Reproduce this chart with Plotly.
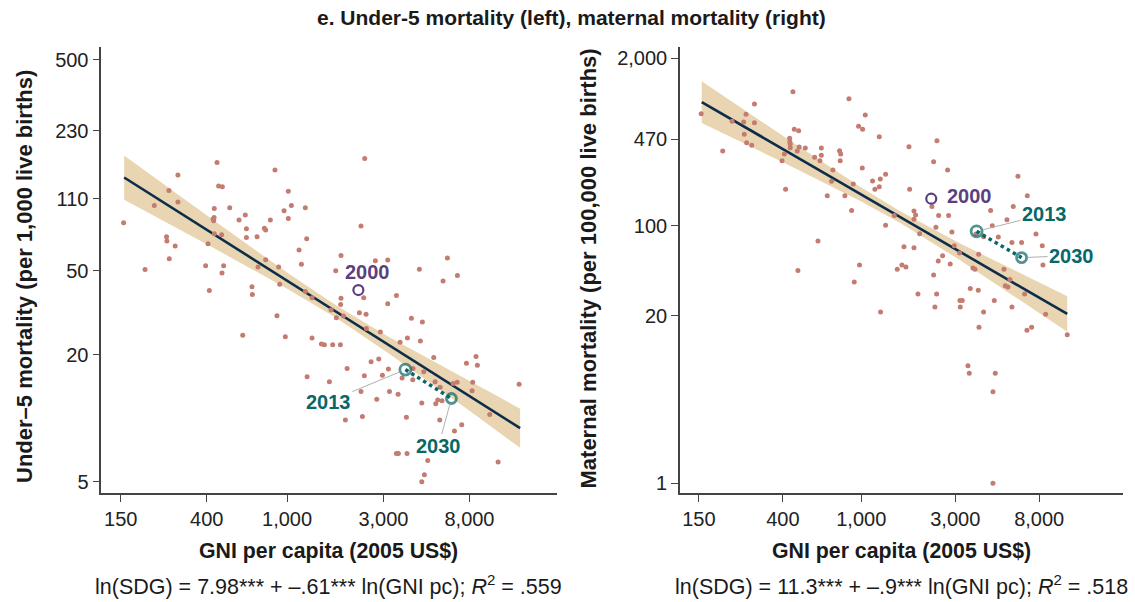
import numpy as np
import plotly.graph_objects as go

# ---------------- data ----------------
u5_gni = [155, 198, 220, 260, 288, 288, 253, 254, 279, 261, 450, 458, 478, 436, 520, 435, 430, 433, 436, 474,
          406, 395, 485, 476, 412, 578, 621, 629, 629, 710, 772, 783, 826, 871, 1014, 1050, 966, 1014, 1231, 1250,
          1146, 1177, 783, 718, 908, 919, 670, 673, 891, 1231, 1329, 1651, 1754, 1849, 1741, 1849, 1842, 2323, 2423, 2395,
          2280, 2460, 2736, 3150, 3478, 3150, 4126, 4519, 6220, 5920, 6970,
          1901, 603, 980, 1329, 1479, 1530, 1682, 1836, 2470, 2897, 4677, 3626, 3943, 4571, 5322, 8620, 7727, 8754,
          2606, 2843, 3175, 1982, 1256, 1620, 2413, 2964, 3710, 4204, 4750, 4190, 5405, 5724, 6637, 6950, 8300, 8240,
          14090, 2323, 2780, 3212, 3545, 4645, 5445, 5570, 5850, 1944, 2360, 3898, 5700, 6740, 7325, 10080, 3478, 3556,
          3926, 4970, 11090, 4786, 4645]
u5_rate = [84.5, 50.7, 102, 120, 142, 106, 72.5, 69.1, 65.5, 57.0, 163, 126, 125, 98.7, 99.5, 89.5, 87.9, 86.3, 74.9, 74.1,
           67.1, 52.8, 52.8, 48.8, 40.3, 87.0, 91.8, 79.1, 71.9, 72.5, 79.4, 78.0, 87.0, 150, 119, 102, 96.3, 88.5, 99.5, 70.9,
           62.7, 53.6, 56.4, 52.1, 52.1, 43.2, 42.0, 38.6, 30.6, 39.9, 37.2, 32.6, 29.9, 59.1, 50.0, 37.0, 34.6, 81.4, 170, 37.2,
           31.6, 31.1, 55.8, 56.2, 38.2, 34.9, 29.8, 50.8, 57.4, 44.7, 47.5,
           30.5, 24.7, 24.3, 24.0, 22.5, 22.3, 22.3, 22.3, 26.6, 25.6, 28.6, 22.9, 24.0, 23.2, 19.4, 19.6, 18.2, 17.8,
           18.5, 19.1, 17.1, 17.2, 15.7, 14.9, 15.9, 16.0, 15.5, 17.2, 16.6, 15.2, 14.9, 14.0, 14.6, 14.8, 14.8, 13.5,
           14.5, 13.4, 12.3, 13.4, 13.0, 11.8, 11.7, 12.2, 12.1, 9.8, 10.2, 10.1, 9.8, 8.7, 9.3, 10.4, 6.8, 6.8,
           6.8, 6.3, 6.2, 5.4, 5.0]

mm_gni = [154, 198, 221, 253, 260, 287, 287, 255, 262, 278, 450, 457, 481, 433, 434, 436, 436, 484, 473, 520,
          407, 396, 413, 580, 627, 627, 617, 718, 707, 672, 776, 786, 782, 866, 969, 1016, 1048, 1234, 1012, 911,
          826, 893, 1141, 1249, 1329, 1173, 1234, 1471, 1329, 1746, 1760, 1851, 1887, 1851, 1978, 2329, 2422, 2284, 2470, 2743,
          2775, 2885, 2393, 4535, 5908, 6241, 6961, 5489, 4623, 7702, 5817, 6513, 8293, 4960, 4177, 3819, 603, 1647, 1851, 2966,
          980, 477, 921, 1253, 1523, 1609, 1685, 1940, 2329, 2459, 2587, 2829, 3156, 2412, 2365, 3168, 3256, 3181,
          3576, 3926, 3942, 3688, 3776, 4177, 3958, 4733, 5300, 5683, 5381, 5552, 6749, 5817, 8625, 6933, 7322, 11105,
          8359, 3479, 3534, 4788, 4660, 4660]
mm_rate = [741, 380, 646, 638, 732, 881, 631, 512, 441, 421, 1098, 560, 547, 477, 449, 431, 403, 408, 380, 401,
           360, 320, 192, 340, 401, 352, 320, 271, 221, 171, 382, 360, 320, 969, 591, 560, 723, 491, 281, 211,
           171, 131, 222, 231, 251, 192, 201, 120, 101, 411, 192, 130, 121, 112, 86.7, 314, 457, 141, 120, 271,
           120, 89.4, 97.1, 131, 141, 242, 171, 111, 100, 86.2, 73.9, 73.9, 70.0, 81.7, 82.2, 86.2, 76.1, 68.7, 67.5, 70.0,
           49.5, 44.8, 36.6, 21.4, 45.8, 49.5, 47.8, 29.5, 41.4, 53.2, 58.5, 50.4, 61.4, 29.5, 23.4, 26.3, 26.3, 23.4,
           32.6, 31.5, 59.9, 46.9, 45.8, 21.4, 16.3, 26.3, 45.8, 38.3, 34.2, 33.4, 29.5, 23.4, 20.5, 15.4, 16.3, 14.2,
           49.5, 8.19, 7.14, 7.14, 5.14, 1.0]

years = ["2000", "2013", "2030"]
u5_mark_gni = [2254, 3853, 6510]
u5_mark_rate = [40.5, 17.0, 12.4]
mm_mark_gni = [2266, 3849, 6513]
mm_mark_rate = [162, 90.4, 56.5]

# regression fits: ln(y) = a + b ln(x)
u5_fit = {"a": 7.99, "b": -0.606, "xmin": 156, "xmax": 14250}
mm_fit = {"a": 11.29, "b": -0.887, "xmin": 155, "xmax": 11105}

u5_band_gni = [156, 398, 1000, 1738, 3162, 7943, 14250]
u5_band_lo = [108.5, 67.0, 41.1, 30.0, 20.4, 10.9, 7.24]
u5_band_hi = [176, 91.8, 49.0, 34.4, 24.4, 15.0, 11.1]
mm_band_gni = [155, 398, 1000, 1585, 3162, 6310, 11105]
mm_band_lo = [628, 312, 154, 104.7, 54.2, 26.9, 15.0]
mm_band_hi = [1324, 501, 198, 128.8, 73.0, 43.2, 28.3]

x_tickvals = [150, 400, 1000, 3000, 8000]
x_ticktext = ["150", "400", "1,000", "3,000", "8,000"]
u5_tickvals = [5, 20, 50, 110, 230, 500]
u5_ticktext = ["5", "20", "50", "110", "230", "500"]
mm_tickvals = [1, 20, 100, 470, 2000]
mm_ticktext = ["1", "20", "100", "470", "2,000"]

# ---------------- style ----------------
FONT = "Liberation Sans, Arial, Helvetica, sans-serif"
PT = "#c47c70"
BAND = "#e9d5b1"
LINE = "#0b2d4b"
PURPLE = "#5c3f7d"
TEAL = "#086767"
AX = "#444444"
W, H = 1135, 602

fig = go.Figure()


def add_panel(xa, ya, gni, rate, fit, bx, blo, bhi, mg, mr):
    fig.add_trace(go.Scatter(x=list(bx) + list(bx)[::-1], y=list(bhi) + list(blo)[::-1],
                             fill="toself", fillcolor=BAND, line=dict(width=0), mode="lines",
                             hoverinfo="skip", xaxis=xa, yaxis=ya, showlegend=False))
    fx = np.exp(np.linspace(np.log(fit["xmin"]), np.log(fit["xmax"]), 50))
    fy = np.exp(fit["a"] + fit["b"] * np.log(fx))
    fig.add_trace(go.Scatter(x=fx, y=fy, mode="lines", line=dict(color=LINE, width=2.6),
                             xaxis=xa, yaxis=ya, showlegend=False))
    fig.add_trace(go.Scatter(x=gni, y=rate, mode="markers",
                             marker=dict(color=PT, size=5, line=dict(width=0)),
                             xaxis=xa, yaxis=ya, showlegend=False))
    fig.add_trace(go.Scatter(x=mg[1:], y=mr[1:], mode="lines",
                             line=dict(color=TEAL, width=3.5, dash="dot"),
                             xaxis=xa, yaxis=ya, showlegend=False))
    fig.add_trace(go.Scatter(x=[mg[0]], y=[mr[0]], mode="markers",
                             marker=dict(symbol="circle-open", color=PURPLE, size=10, line=dict(width=2.2, color=PURPLE)),
                             xaxis=xa, yaxis=ya, showlegend=False))
    fig.add_trace(go.Scatter(x=mg[1:], y=mr[1:], mode="markers",
                             marker=dict(symbol="circle-open", color=TEAL, size=[11, 10],
                                         line=dict(width=2.8, color=TEAL)),
                             xaxis=xa, yaxis=ya, showlegend=False))


add_panel("x", "y", u5_gni, u5_rate, u5_fit, u5_band_gni, u5_band_lo, u5_band_hi, u5_mark_gni, u5_mark_rate)
add_panel("x2", "y2", mm_gni, mm_rate, mm_fit, mm_band_gni, mm_band_lo, mm_band_hi, mm_mark_gni, mm_mark_rate)

tickfont = dict(family=FONT, size=20, color="#222222")
common = dict(type="log", showgrid=False, zeroline=False, showline=True, linecolor=AX, linewidth=1.6,
              ticks="outside", ticklen=7, tickwidth=1.4, tickcolor=AX, tickfont=tickfont)

dom_y = [1 - 493.3 / H, 1 - 46.7 / H]
fig.update_layout(
    width=W, height=H, margin=dict(l=0, r=0, t=0, b=0),
    paper_bgcolor="white", plot_bgcolor="white", showlegend=False,
    xaxis=dict(domain=[101.3 / W, 556.7 / W], range=[2.080, 4.335], tickvals=x_tickvals, ticktext=x_ticktext,
               anchor="y", **common),
    yaxis=dict(domain=dom_y, range=[0.644, 2.761], tickvals=u5_tickvals, ticktext=u5_ticktext,
               anchor="x", **common),
    xaxis2=dict(domain=[680 / W, 1123.3 / W], range=[2.080, 4.330], tickvals=x_tickvals, ticktext=x_ticktext,
                anchor="y2", **common),
    yaxis2=dict(domain=dom_y, range=[-0.078, 3.390], tickvals=mm_tickvals, ticktext=mm_ticktext,
                anchor="x2", **common),
)

ann = []
bold22 = dict(family=FONT, size=22, color="#1a1a1a")
boldx = dict(family=FONT, size=21.3, color="#1a1a1a")
ann.append(dict(text="<b>e. Under-5 mortality (left), maternal mortality (right)</b>", x=571 / W, y=1 - 18 / H,
                xref="paper", yref="paper", showarrow=False, xanchor="center", yanchor="middle",
                font=dict(family=FONT, size=21, color="#1a1a1a")))
for cx in [328 / W, 901.7 / W]:
    ann.append(dict(text="<b>GNI per capita (2005 US$)</b>", x=cx, y=1 - 551 / H, xref="paper", yref="paper",
                    showarrow=False, xanchor="center", yanchor="middle", font=boldx))
ann.append(dict(text="<b>Under–5 mortality (per 1,000 live births)</b>", x=24 / W, y=1 - 277 / H,
                xref="paper", yref="paper", showarrow=False, textangle=-90, xanchor="center", yanchor="middle",
                font=bold22))
ann.append(dict(text="<b>Maternal mortality (per 100,000 live births)</b>", x=588 / W, y=1 - 268.5 / H,
                xref="paper", yref="paper", showarrow=False, textangle=-90, xanchor="center", yanchor="middle",
                font=bold22))
eqfont = dict(family=FONT, size=21.5, color="#1a1a1a")
ann.append(dict(text="ln(SDG) = 7.98*** + –.61*** ln(GNI pc); <i>R</i><sup>2</sup> = .559", x=328 / W, y=1 - 585 / H,
                xref="paper", yref="paper", showarrow=False, xanchor="center", yanchor="middle", font=eqfont))
ann.append(dict(text="ln(SDG) = 11.3*** + –.9*** ln(GNI pc); <i>R</i><sup>2</sup> = .518", x=901 / W, y=1 - 585 / H,
                xref="paper", yref="paper", showarrow=False, xanchor="center", yanchor="middle", font=eqfont))

lab = lambda c: dict(family=FONT, size=20, color=c)
lg = np.log10
# left panel year labels
ann.append(dict(text="<b>2000</b>", x=lg(u5_mark_gni[0]), y=lg(u5_mark_rate[0]), xref="x", yref="y",
                showarrow=False, xshift=9, yshift=18, font=lab(PURPLE)))
ann.append(dict(text="<b>2013</b>", x=lg(u5_mark_gni[1]), y=lg(u5_mark_rate[1]), xref="x", yref="y",
                showarrow=True, arrowhead=0, arrowwidth=1, arrowcolor="#b0b0b0", ax=-77, ay=32, standoff=7,
                font=lab(TEAL)))
ann.append(dict(text="<b>2030</b>", x=lg(u5_mark_gni[2]), y=lg(u5_mark_rate[2]), xref="x", yref="y",
                showarrow=True, arrowhead=0, arrowwidth=1, arrowcolor="#b0b0b0", ax=-13, ay=48, standoff=6,
                font=lab(TEAL)))
# right panel year labels
ann.append(dict(text="<b>2000</b>", x=lg(mm_mark_gni[0]), y=lg(mm_mark_rate[0]), xref="x2", yref="y2",
                showarrow=False, xanchor="left", xshift=14, yshift=3, font=lab(PURPLE)))
ann.append(dict(text="<b>2013</b>", x=lg(mm_mark_gni[1]), y=lg(mm_mark_rate[1]), xref="x2", yref="y2",
                showarrow=True, arrowhead=0, arrowwidth=1, arrowcolor="#b0b0b0", ax=68, ay=-17, standoff=7,
                font=lab(TEAL)))
ann.append(dict(text="<b>2030</b>", x=lg(mm_mark_gni[2]), y=lg(mm_mark_rate[2]), xref="x2", yref="y2",
                showarrow=True, arrowhead=0, arrowwidth=1, arrowcolor="#b0b0b0", ax=50, ay=-2, standoff=6,
                font=lab(TEAL)))
fig.update_layout(annotations=ann)

fig.write_html("out.html", config={"displayModeBar": False},
               post_script="document.body.style.margin='0px';")
